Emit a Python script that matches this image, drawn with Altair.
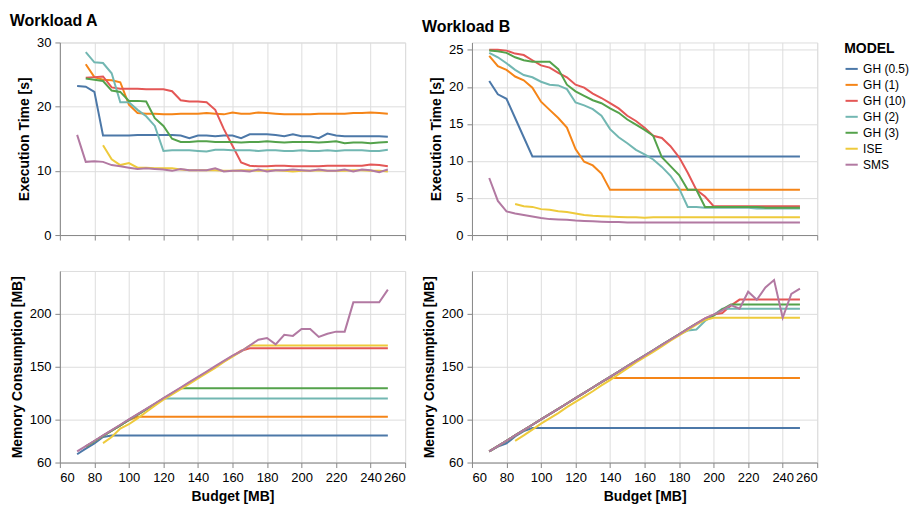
import altair as alt
import pandas as pd

budget = [70, 75, 80, 85, 90, 95, 100, 105, 110, 115, 120, 125, 130, 135, 140, 145, 150, 155, 160,
          165, 170, 175, 180, 185, 190, 195, 200, 205, 210, 215, 220, 225, 230, 235, 240, 245, 250]

models = ["GH (0.5)", "GH (1)", "GH (10)", "GH (2)", "GH (3)", "ISE", "SMS"]
colors = ["#4c78a8", "#f58518", "#e45756", "#72b7b2", "#54a24b", "#eeca3b", "#b279a2"]
N = None

# ---------------- Workload A: execution time [s]
a_time_gh05 = [23.2, 23.1, 22.3, 15.5, 15.5, 15.5, 15.5, 15.6, 15.6, 15.6, 15.6, 15.6, 15.5, 15.1, 15.5, 15.5, 15.4, 15.5, 15.5,
               15.1, 15.7, 15.7, 15.7, 15.6, 15.4, 15.7, 15.4, 15.4, 15.1, 15.8, 15.5, 15.4, 15.4, 15.4, 15.4, 15.4, 15.3]
a_time_gh1 = [N, 26.6, 24.6, 24.2, 24.1, 23.8, 20.3, 19.0, 18.9, 18.9, 18.8, 18.8, 18.9, 18.9, 18.9, 19.0, 18.9, 18.8, 19.1,
              18.9, 18.9, 19.1, 19.0, 18.9, 18.8, 18.8, 18.8, 18.8, 18.9, 18.9, 18.9, 18.9, 19.0, 19.0, 19.1, 19.0, 18.9]
a_time_gh10 = [N, 24.5, 24.6, 24.7, 23.0, 22.8, 22.8, 22.8, 22.7, 22.7, 22.7, 22.4, 21.0, 20.8, 20.8, 20.7, 19.5, 16.5, 13.9,
               11.3, 10.8, 10.7, 10.7, 10.8, 10.8, 10.7, 10.7, 10.7, 10.7, 10.8, 10.8, 10.8, 10.8, 10.8, 11.0, 10.9, 10.7]
a_time_gh2 = [N, 28.5, 26.9, 26.8, 25.2, 20.7, 20.7, 19.5, 18.5, 17.0, 13.1, 13.2, 13.2, 13.2, 13.1, 13.0, 13.3, 13.3, 13.2,
              13.2, 13.2, 13.1, 13.2, 13.2, 13.1, 13.1, 13.2, 13.1, 13.1, 13.2, 13.1, 13.2, 13.2, 13.2, 13.1, 13.1, 13.3]
a_time_gh3 = [N, 24.4, 24.2, 24.0, 22.5, 22.3, 20.9, 20.9, 20.8, 18.2, 17.0, 15.0, 14.5, 14.5, 14.6, 14.6, 14.5, 14.5, 14.5,
              14.4, 14.5, 14.5, 14.6, 14.5, 14.4, 14.5, 14.5, 14.5, 14.4, 14.5, 14.6, 14.3, 14.4, 14.4, 14.3, 14.4, 14.5]
a_time_ise = [N, N, N, 14.0, 11.8, 10.9, 11.2, 10.5, 10.5, 10.4, 10.4, 10.4, 10.2, 10.1, 10.1, 10.1, 10.1, 10.0, 10.0,
              10.1, 10.1, 10.0, 10.1, 10.1, 10.0, 9.9, 10.0, 10.0, 10.1, 10.0, 10.0, 10.0, 10.1, 10.1, 10.0, 10.0, 9.9]
a_time_sms = [15.6, 11.4, 11.5, 11.4, 10.9, 10.7, 10.5, 10.3, 10.4, 10.3, 10.2, 10.0, 10.3, 10.1, 10.1, 10.1, 10.4, 9.9, 10.0,
              10.0, 9.9, 10.2, 9.9, 10.1, 10.1, 10.2, 10.1, 10.0, 10.2, 10.0, 10.0, 10.2, 9.9, 10.2, 10.1, 9.8, 10.2]

# ---------------- Workload B: execution time [s]
b_time_gh05 = [20.8, 19.0, 18.4, 15.8, 13.2, 10.6, 10.6, 10.6, 10.6, 10.6, 10.6, 10.6, 10.6, 10.6, 10.6, 10.6, 10.6, 10.6, 10.6,
               10.6, 10.6, 10.6, 10.6, 10.6, 10.6, 10.6, 10.6, 10.6, 10.6, 10.6, 10.6, 10.6, 10.6, 10.6, 10.6, 10.6, 10.6]
b_time_gh1 = [24.2, 22.8, 22.3, 21.4, 20.9, 19.9, 18.0, 16.9, 15.8, 14.5, 11.6, 9.9, 9.4, 8.3, 6.1, 6.1, 6.1, 6.1, 6.1,
              6.1, 6.1, 6.1, 6.1, 6.1, 6.1, 6.1, 6.1, 6.1, 6.1, 6.1, 6.1, 6.1, 6.1, 6.1, 6.1, 6.1, 6.1]
b_time_gh10 = [25.0, 25.0, 24.9, 24.5, 24.3, 23.6, 22.9, 22.6, 21.9, 21.3, 20.3, 19.9, 19.1, 18.5, 17.8, 17.1, 16.1, 15.4, 14.5,
               13.4, 13.1, 12.0, 10.5, 8.4, 6.1, 5.2, 3.9, 3.9, 3.9, 3.9, 3.9, 3.9, 3.9, 3.9, 3.9, 3.9, 3.9]
b_time_gh2 = [24.6, 24.0, 23.2, 22.3, 21.6, 21.3, 20.7, 20.3, 20.2, 19.7, 17.9, 17.5, 17.0, 16.1, 14.3, 13.2, 12.4, 11.5, 10.9,
              10.2, 9.2, 8.0, 6.3, 3.8, 3.8, 3.7, 3.7, 3.7, 3.7, 3.7, 3.7, 3.6, 3.6, 3.6, 3.6, 3.6, 3.6]
b_time_gh3 = [24.9, 24.8, 24.6, 24.0, 23.6, 23.4, 23.4, 23.4, 22.4, 20.3, 19.4, 18.8, 18.2, 17.8, 17.1, 16.5, 15.6, 14.9, 14.2,
              13.4, 10.5, 9.3, 8.1, 6.1, 6.1, 3.8, 3.8, 3.8, 3.8, 3.8, 3.8, 3.8, 3.7, 3.7, 3.7, 3.7, 3.7]
b_time_ise = [N, N, N, 4.2, 3.9, 3.8, 3.5, 3.4, 3.2, 3.1, 2.9, 2.7, 2.6, 2.55, 2.5, 2.45, 2.4, 2.4, 2.35,
              2.4, 2.4, 2.4, 2.4, 2.4, 2.4, 2.4, 2.4, 2.4, 2.4, 2.4, 2.4, 2.4, 2.4, 2.4, 2.4, 2.4, 2.4]
b_time_sms = [7.7, 4.6, 3.2, 2.9, 2.7, 2.5, 2.3, 2.15, 2.1, 2.05, 1.95, 1.9, 1.85, 1.8, 1.75, 1.75, 1.7, 1.7, 1.7,
              1.7, 1.7, 1.7, 1.7, 1.7, 1.7, 1.7, 1.7, 1.7, 1.7, 1.7, 1.7, 1.7, 1.7, 1.7, 1.7, 1.7, 1.7]

# ---------------- Workload A: memory consumption [MB]
a_mem_gh05 = [67.8, 73.0, 78.0, 84.0, 85.5, 85.5, 85.5, 85.5, 85.5, 85.5, 85.5, 85.5, 85.5, 85.5, 85.5, 85.5, 85.5, 85.5, 85.5,
              85.5, 85.5, 85.5, 85.5, 85.5, 85.5, 85.5, 85.5, 85.5, 85.5, 85.5, 85.5, 85.5, 85.5, 85.5, 85.5, 85.5, 85.5]
a_mem_gh1 = [N, 75.0, 80.0, 85.0, 90.0, 95.0, 100.0, 103.0, 103.0, 103.0, 103.0, 103.0, 103.0, 103.0, 103.0, 103.0, 103.0, 103.0, 103.0,
             103.0, 103.0, 103.0, 103.0, 103.0, 103.0, 103.0, 103.0, 103.0, 103.0, 103.0, 103.0, 103.0, 103.0, 103.0, 103.0, 103.0, 103.0]
a_mem_gh10 = [N, 75.0, 80.0, 85.0, 90.0, 95.0, 100.0, 105.0, 110.0, 115.0, 120.0, 125.0, 130.0, 135.0, 140.0, 145.0, 150.0, 155.0, 160.0,
              165.0, 167.3, 167.3, 167.3, 167.3, 167.3, 167.3, 167.3, 167.3, 167.3, 167.3, 167.3, 167.3, 167.3, 167.3, 167.3, 167.3, 167.3]
a_mem_gh2 = [N, 75.0, 80.0, 85.0, 90.0, 95.0, 100.0, 105.0, 110.0, 115.0, 120.2, 120.2, 120.2, 120.2, 120.2, 120.2, 120.2, 120.2, 120.2,
             120.2, 120.2, 120.2, 120.2, 120.2, 120.2, 120.2, 120.2, 120.2, 120.2, 120.2, 120.2, 120.2, 120.2, 120.2, 120.2, 120.2, 120.2]
a_mem_gh3 = [N, 75.0, 80.0, 85.0, 90.0, 95.0, 100.0, 105.0, 110.0, 115.0, 120.0, 125.0, 129.9, 129.9, 129.9, 129.9, 129.9, 129.9, 129.9,
             129.9, 129.9, 129.9, 129.9, 129.9, 129.9, 129.9, 129.9, 129.9, 129.9, 129.9, 129.9, 129.9, 129.9, 129.9, 129.9, 129.9, 129.9]
a_mem_ise = [N, N, N, 78.3, 84.0, 92.0, 96.0, 101.5, 107.5, 113.5, 119.0, 124.0, 129.0, 134.0, 139.0, 144.0, 149.0, 154.5, 159.5,
             164.5, 170.0, 170.0, 170.0, 170.0, 170.0, 170.0, 170.0, 170.0, 170.0, 170.0, 170.0, 170.0, 170.0, 170.0, 170.0, 170.0, 170.0]
a_mem_sms = [70.5, 75.5, 80.5, 85.5, 90.5, 95.5, 100.5, 105.5, 110.5, 115.5, 120.5, 125.5, 130.5, 135.5, 140.5, 145.5, 150.5, 155.5, 160.5,
             164.5, 170.0, 175.4, 177.0, 171.0, 180.0, 179.0, 185.5, 185.5, 178.0, 181.0, 183.0, 183.0, 210.5, 210.5, 210.5, 210.5, 222.5]

# ---------------- Workload B: memory consumption [MB]
b_mem_gh05 = [70.5, 75.0, 78.0, 84.5, 89.5, 92.4, 92.4, 92.4, 92.4, 92.4, 92.4, 92.4, 92.4, 92.4, 92.4, 92.4, 92.4, 92.4, 92.4,
              92.4, 92.4, 92.4, 92.4, 92.4, 92.4, 92.4, 92.4, 92.4, 92.4, 92.4, 92.4, 92.4, 92.4, 92.4, 92.4, 92.4, 92.4]
b_mem_gh1 = [70.5, 75.5, 80.5, 85.5, 90.5, 95.5, 100.5, 105.5, 110.5, 115.5, 120.5, 125.5, 130.5, 135.5, 139.5, 139.5, 139.5, 139.5, 139.5,
             139.5, 139.5, 139.5, 139.5, 139.5, 139.5, 139.5, 139.5, 139.5, 139.5, 139.5, 139.5, 139.5, 139.5, 139.5, 139.5, 139.5, 139.5]
b_mem_gh10 = [70.5, 75.5, 80.5, 85.5, 90.5, 95.5, 100.5, 105.5, 110.5, 115.5, 120.5, 125.5, 130.5, 135.5, 140.5, 145.5, 150.5, 155.5, 160.5,
              165.5, 170.5, 175.5, 180.5, 185.5, 190.5, 195.5, 199.0, 200.5, 207.5, 213.1, 213.1, 213.1, 213.1, 213.1, 213.1, 213.1, 213.1]
b_mem_gh2 = [70.5, 75.5, 80.5, 85.5, 90.5, 95.5, 100.5, 105.5, 110.5, 115.5, 120.5, 125.5, 130.5, 135.5, 140.5, 145.5, 150.5, 155.5, 160.5,
             165.5, 170.5, 175.5, 180.5, 184.0, 185.0, 193.0, 198.5, 204.4, 204.4, 204.4, 204.4, 204.4, 204.4, 204.4, 204.4, 204.4, 204.4]
b_mem_gh3 = [70.5, 75.5, 80.5, 85.5, 90.5, 95.5, 100.5, 105.5, 110.5, 115.5, 120.5, 125.5, 130.5, 135.5, 140.5, 145.5, 150.5, 155.5, 160.5,
             165.5, 170.5, 175.5, 180.5, 185.5, 190.5, 194.5, 198.0, 204.0, 208.4, 208.4, 208.4, 208.4, 208.4, 208.4, 208.4, 208.4, 208.4]
b_mem_ise = [N, N, N, 80.3, 85.5, 91.0, 96.5, 101.5, 106.5, 112.0, 117.0, 122.0, 127.0, 132.5, 137.5, 143.0, 148.5, 154.0, 159.0,
             164.0, 169.0, 174.5, 179.5, 184.5, 189.5, 194.0, 196.0, 196.0, 196.0, 196.0, 196.0, 196.0, 196.0, 196.0, 196.0, 196.0, 196.0]
b_mem_sms = [70.5, 75.5, 80.5, 85.5, 90.5, 95.5, 100.5, 105.5, 110.5, 115.5, 120.5, 125.5, 130.5, 135.5, 140.5, 145.5, 150.5, 155.5, 160.5,
             165.5, 170.5, 175.5, 180.5, 185.5, 190.5, 195.5, 199.0, 203.0, 208.0, 204.5, 220.5, 213.0, 224.5, 231.5, 196.0, 218.5, 223.5]

series = {
    ("A", "time"): [a_time_gh05, a_time_gh1, a_time_gh10, a_time_gh2, a_time_gh3, a_time_ise, a_time_sms],
    ("B", "time"): [b_time_gh05, b_time_gh1, b_time_gh10, b_time_gh2, b_time_gh3, b_time_ise, b_time_sms],
    ("A", "mem"): [a_mem_gh05, a_mem_gh1, a_mem_gh10, a_mem_gh2, a_mem_gh3, a_mem_ise, a_mem_sms],
    ("B", "mem"): [b_mem_gh05, b_mem_gh1, b_mem_gh10, b_mem_gh2, b_mem_gh3, b_mem_ise, b_mem_sms],
}


def frame(key):
    rows = []
    for model, vals in zip(models, series[key]):
        for b, v in zip(budget, vals):
            if v is not None:
                rows.append({"budget": b, "value": v, "model": model})
    return pd.DataFrame(rows)


x_ticks = [60, 80, 100, 120, 140, 160, 180, 200, 220, 240, 260]
W = 346


def panel(key, ytitle, ydomain, yticks, bottom, h):
    xaxis = alt.Axis(values=x_ticks, title="Budget [MB]") if bottom else alt.Axis(values=x_ticks, labels=False, title=None)
    return alt.Chart(frame(key)).mark_line(strokeWidth=2).encode(
        x=alt.X("budget:Q", scale=alt.Scale(domain=[60, 260], nice=False, zero=False), axis=xaxis),
        y=alt.Y("value:Q", scale=alt.Scale(domain=ydomain, nice=False, zero=False),
                axis=alt.Axis(values=yticks, title=ytitle)),
        color=alt.Color("model:N", scale=alt.Scale(domain=models, range=colors),
                        legend=alt.Legend(title="MODEL", offset=26)),
    ).properties(width=W, height=h)


colA = alt.vconcat(
    panel(("A", "time"), "Execution Time [s]", [0, 30], [0, 10, 20, 30], False, 193),
    panel(("A", "mem"), "Memory Consumption [MB]", [60, 240], [60, 100, 150, 200], True, 192),
    spacing=27,
    title=alt.Title("Workload A", anchor="start", fontSize=16, offset=7),
)
colB = alt.vconcat(
    panel(("B", "time"), "Execution Time [s]", [0, 26], [0, 5, 10, 15, 20, 25], False, 193),
    panel(("B", "mem"), "Memory Consumption [MB]", [60, 240], [60, 100, 150, 200], True, 192),
    spacing=27,
    title=alt.Title("Workload B", anchor="start", fontSize=16, offset=7),
)

font = "Liberation Sans"
chart = alt.hconcat(colA, colB, spacing=15).properties(
    padding={"left": 9, "top": 12, "right": 5, "bottom": 5}
).configure(font=font).configure_axis(
    labelFontSize=13, titleFontSize=14, labelFont=font, titleFont=font, labelPadding=4, titlePadding=5
).configure_legend(
    titleFontSize=14, labelFontSize=12, symbolType="stroke", symbolStrokeWidth=2, symbolSize=150
).configure_title(font=font)

chart.save("out.html", embed_options={"renderer": "svg", "actions": False})
